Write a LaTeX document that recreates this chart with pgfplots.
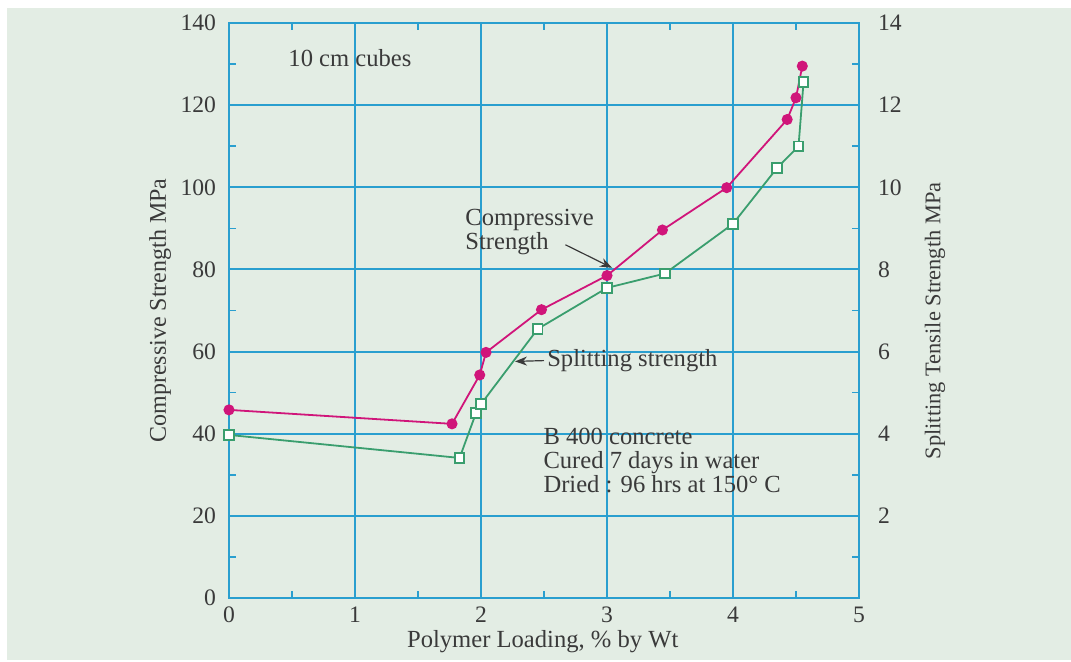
\documentclass[border=0pt]{standalone}
\usepackage{pgfplots}
\pgfplotsset{compat=1.18}
\usepackage{fontspec}
\setmainfont{Liberation Serif}
\usetikzlibrary{arrows.meta}
\definecolor{bgg}{HTML}{E3EDE4}
\definecolor{gridb}{HTML}{2A9FCF}
\definecolor{mag}{HTML}{D0157A}
\definecolor{grn}{HTML}{3A9E6E}
\definecolor{txt}{HTML}{3A3A3A}

\newcommand{\tf}{\fontsize{12.3}{12}\selectfont}
\pgfplotsset{
  base/.style={
    scale only axis, width=315pt, height=287.5pt,
    at={(114.5pt,32pt)}, anchor=south west,
    xmin=0, xmax=5,
    tick label style={font=\fontsize{11.8}{13}\selectfont, text=txt},
    /pgf/number format/assume math mode=true,
    major tick length=0pt, minor tick length=3.5pt, tick align=inside,
    minor tick style={gridb, line width=0.8pt},
    axis line style={gridb, line width=1pt},
    clip=false,
  }
}

\begin{document}
\begin{tikzpicture}
\fill[white] (0,0) rectangle (535.5pt,331pt);
\fill[bgg] (3.5pt,1pt) rectangle (535.5pt,327pt);

\begin{axis}[base,
    ymin=0, ymax=140,
    xtick={0,1,2,3,4,5}, ytick={0,20,...,140},
    minor xtick={0.5,1.5,2.5,3.5,4.5},
    minor ytick={10,30,50,70,90,110,130},
    xtick pos=both, ytick pos=left,
    grid=major, major grid style={gridb, line width=1pt},
    xticklabel style={yshift=-1pt},
    yticklabel style={xshift=-3pt},
]
  \addplot[mag, line width=0.9pt, mark=*, mark size=2.3pt, mark options={fill=mag, draw=mag}]
    coordinates {(0,45.8) (1.77,42.4) (1.99,54.3) (2.04,59.8) (2.48,70.2) (3.0,78.5)
                 (3.44,89.6) (3.95,99.9) (4.43,116.5) (4.5,121.8) (4.55,129.5)};
  \node[font=\tf, text=txt] at (axis cs:0.96,131.5) {10 cm cubes};
  \node[font=\tf, text=txt, anchor=west, align=left]
    at (axis cs:1.82,89.0) {Compressive\\Strength};
  \draw[-{Stealth[length=6pt]}, txt, line width=0.6pt] (axis cs:2.67,86.0) -- (axis cs:3.04,80.4);
  \node[font=\tf, text=txt, anchor=west]
    at (axis cs:2.47,57.9) {Splitting strength};
  \draw[-{Stealth[length=6pt]}, txt, line width=0.6pt] (axis cs:2.5,57.8) -- (axis cs:2.27,57.6);
  \node[font=\tf, text=txt, anchor=west, align=left]
    at (axis cs:2.44,33.4) {B 400 concrete\\Cured 7 days in water\\Dried : 96 hrs at 150° C};
  \node[font=\fontsize{12}{12}\selectfont, text=txt, rotate=90]
    at (rel axis cs:-0.1095,0.5) {Compressive Strength MPa};
  \node[font=\tf, text=txt]
    at (rel axis cs:0.498,-0.0765) {Polymer Loading, \% by Wt};
\end{axis}

\begin{axis}[base,
    ymin=0, ymax=14,
    axis x line=none, axis y line*=right,
    ytick={2,4,...,14}, minor ytick={1,3,...,13},
    yticklabel style={xshift=6pt},
]
  \addplot[grn, line width=0.9pt, mark=square*, mark size=2.4pt, mark options={fill=white, draw=grn}]
    coordinates {(0,3.97) (1.83,3.41) (1.96,4.5) (2.0,4.72) (2.45,6.55) (3.0,7.55)
                 (3.46,7.9) (4.0,9.11) (4.35,10.47) (4.52,11.0) (4.56,12.56)};
  \node[font=\fontsize{11.2}{12}\selectfont, text=txt, rotate=90]
    at (rel axis cs:1.1206,0.482) {Splitting Tensile Strength MPa};
\end{axis}
\end{tikzpicture}
\end{document}
